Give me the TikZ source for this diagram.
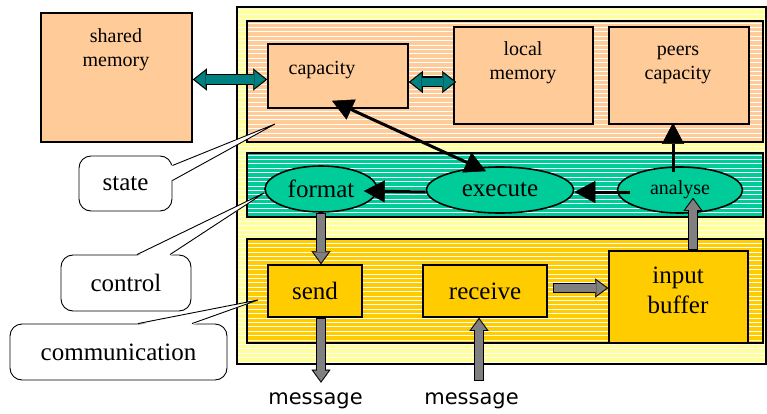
\documentclass[tikz,border=0pt]{standalone}
\usepackage{fontspec}
\setmainfont{Liberation Serif}
\newfontfamily\msgfont{DejaVu Sans}
\usetikzlibrary{arrows.meta,shapes.geometric}

\definecolor{paleyellow}{RGB}{255,255,153}
\definecolor{peach}{RGB}{255,204,153}
\definecolor{ctrlgreen}{RGB}{0,204,153}
\definecolor{gold}{RGB}{255,204,0}
\definecolor{darkteal}{RGB}{0,128,128}
\definecolor{msggray}{RGB}{128,128,128}

\tikzset{
  >={Triangle[length=21pt,width=22pt,line width=0.5pt]},
  box/.style={draw, line width=1.6pt, inner sep=0pt},
  small/.style={font=\fontsize{20}{24}\selectfont, align=center},
  big/.style={font=\fontsize{25}{30}\selectfont, align=center},
  oval/.style={draw, ellipse, line width=1.6pt, fill=ctrlgreen, inner sep=0pt},
  bubble/.style={draw, line width=0.9pt, fill=white, rounded corners=12pt, big},
  msg/.style={font=\msgfont\fontsize{21}{24}\selectfont, anchor=base},
  stripe/.style={white, line width=1pt},
  flow/.style={line width=3pt},
  % block arrows: black outline first, coloured body on top
  grayarrow/.style={line width=10pt, -{Triangle[length=13pt,width=19pt,line width=0.1pt]},
    postaction={draw=msggray, line width=8pt, shorten >=1.7pt, shorten <=1pt,
      -{Triangle[length=10.3pt,width=15pt,line width=0.1pt]}}},
  tealarrow/.style={line width=11pt,
    {Triangle[length=14pt,width=22pt,line width=0.1pt]}-{Triangle[length=14pt,width=22pt,line width=0.1pt]},
    postaction={draw=darkteal, line width=8.6pt, shorten >=1.9pt, shorten <=1.9pt,
      {Triangle[length=10.9pt,width=17.1pt,line width=0.1pt]}-{Triangle[length=10.9pt,width=17.1pt,line width=0.1pt]}}}
}

\begin{document}
\begin{tikzpicture}[x=1pt,y=-1pt]
\useasboundingbox (0,0) rectangle (767,414);

% the process and its three layers
\fill[paleyellow] (237,7) rectangle (766,364);
\fill[peach] (247,21) rectangle (763,142);
\fill[ctrlgreen] (247,153) rectangle (763,217);
\fill[gold] (247,239) rectangle (763,343);
\foreach \y in {10,14.4,...,362}
  \draw[stripe] (238,\y) -- (765,\y);
\draw[line width=1.6pt] (237,7) rectangle (766,364);
\draw[line width=1.6pt] (247,21) rectangle (763,142);
\draw[line width=1.6pt] (247,153) rectangle (763,217);
\draw[line width=1.6pt] (247,239) rectangle (763,343);

% state
\node[box, fill=peach, minimum width=151pt, minimum height=129pt] (shmem) at (116.5,77.5) {};
\node[small] (shmemtxt) at (116,50) {shared\\memory};
\node[box, fill=peach, minimum width=140pt, minimum height=64pt] (capacity) at (338,76) {};
\node[small, anchor=base] (capacitytxt) at (322,75) {capacity};
\node[box, fill=peach, minimum width=139pt, minimum height=97pt] (local) at (523.5,75.5) {};
\node[small] (localtxt) at (523,63) {local\\memory};
\node[box, fill=peach, minimum width=140pt, minimum height=97pt] (peers) at (679,75.5) {};
\node[small] (peerstxt) at (678,65) {peers\\capacity};

% control
\node[oval, big, minimum width=112pt, minimum height=46pt] (format) at (321,189) {format};
\node[oval, big, minimum width=147pt, minimum height=46pt] (execute) at (500,190) {execute};
\node[oval, small, minimum width=125pt, minimum height=46pt] (analyse) at (680,190) {analyse};

% communication
\node[box, fill=gold, big, minimum width=94pt, minimum height=52pt] (send) at (315,291) {send};
\node[box, fill=gold, big, minimum width=124pt, minimum height=52pt] (receive) at (485,291) {receive};
\node[box, fill=gold, minimum width=139pt, minimum height=92pt] (buffer) at (678.5,297) {};
\node[big] (buffertxt) at (678,290) {input\\buffer};

\node[msg] (msgout) at (315.5,404) {message};
\node[msg] (msgin) at (471.5,404) {message};

% data paths
\draw[tealarrow] ([yshift=-2pt]shmem.east) -- ([yshift=-2pt]shmem.east -| capacity.west);
\draw[tealarrow] ([yshift=-6pt]capacity.east) -- ([yshift=-6pt,xshift=3pt]capacity.east -| local.west);

\draw[flow,<->] ([xshift=-6pt,yshift=8pt]capacity.south) -- ([xshift=-14pt,yshift=-5pt]execute.north);
\draw[flow,->] ([xshift=-7pt,yshift=-6pt]analyse.north) -- ([xshift=-7pt,yshift=2pt]analyse.north |- peers.south);
\draw[flow,->] ([xshift=13pt,yshift=-2pt]analyse.west) -- ([yshift=-2pt]execute.east);
\draw[flow,->] ([yshift=-2pt]execute.west) -- ([xshift=-14pt,yshift=-2pt]format.east);

\draw[grayarrow] (format.south) -- (format.south |- send.north);
\draw[grayarrow] (send.south -| format.south) -- ([yshift=6pt]msgout.north -| format.south);
\draw[grayarrow] ([xshift=7.5pt,yshift=8pt]msgin.north) -- ([xshift=7.5pt]msgin.north |- receive.south);
\draw[grayarrow] ([shift={(5pt,3pt)}]receive.east) -- ([yshift=3pt]receive.east -| buffer.west);
\coordinate (bufup) at ([xshift=13pt,yshift=16pt]analyse.south);
\draw[grayarrow] (buffer.north -| bufup) -- (bufup);

% callouts
\node[bubble, minimum width=93pt, minimum height=55pt] (state) at (125.5,183.5) {state};
\coordinate (statept) at (275,124);
\fill[white] ([shift={(-1.5pt,18pt)}]state.east) -- (statept) -- ([shift={(-1.5pt,3pt)}]state.east) -- cycle;
\draw[line width=0.9pt] ([yshift=18pt]state.east) -- (statept) -- ([yshift=3pt]state.east);

\node[bubble, minimum width=130pt, minimum height=56pt] (control) at (126,283) {control};
\coordinate (controlpt) at (264,193);
\fill[white] ([shift={(11pt,-1.5pt)}]control.north) -- (controlpt) -- ([shift={(44pt,-1.5pt)}]control.north) -- cycle;
\draw[line width=0.9pt] ([xshift=11pt]control.north) -- (controlpt) -- ([xshift=44pt]control.north);

\node[bubble, minimum width=217pt, minimum height=56pt] (comm) at (118.5,352) {communication};
\coordinate (commpt) at (258,300);
\fill[white] ([shift={(19.5pt,-1.5pt)}]comm.north) -- (commpt) -- ([shift={(73.5pt,-1.5pt)}]comm.north) -- cycle;
\draw[line width=0.9pt] ([xshift=19.5pt]comm.north) -- (commpt) -- ([xshift=73.5pt]comm.north);
\end{tikzpicture}
\end{document}
